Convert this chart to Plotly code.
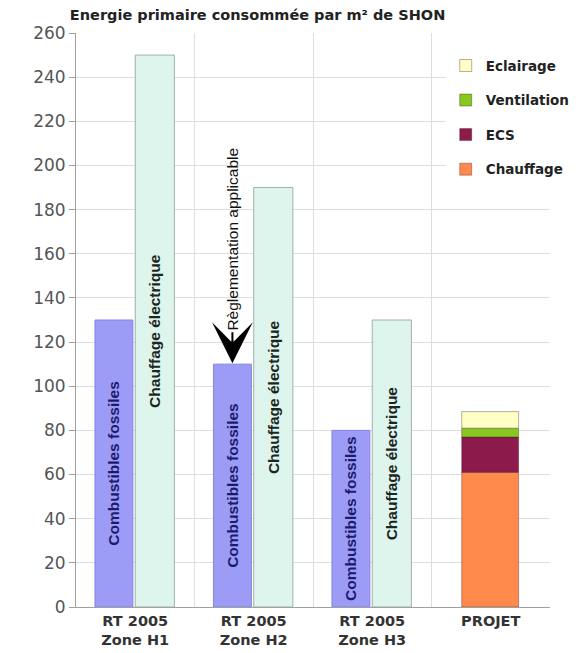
import plotly.graph_objects as go

# Reference values (kWh ep / m² SHON) for each climate zone
zones = ["RT 2005<br>Zone H1", "RT 2005<br>Zone H2", "RT 2005<br>Zone H3"]
fossiles = [130, 110, 80]
electrique = [250, 190, 130]

# Project consumption broken down by use
projet_label = "PROJET"
usages = ["Chauffage", "ECS", "Ventilation", "Eclairage"]
projet_values = [61, 16, 4, 7.5]
usage_colors = ["#ff8a4c", "#8c1b4b", "#86c81e", "#ffffc6"]

tick_labels = zones + [projet_label]
x_zones = list(range(len(zones)))
x_projet = len(zones)

FOSSIL_OFFSET, FOSSIL_WIDTH = -0.34, 0.32
ELEC_OFFSET, ELEC_WIDTH = 0.0, 0.33
PROJ_OFFSET, PROJ_WIDTH = -0.245, 0.48

bold_rot = dict(family="Liberation Sans", size=15.5, weight="bold")

fig = go.Figure()

fig.add_trace(go.Bar(
    x=x_zones, y=fossiles, width=FOSSIL_WIDTH, offset=FOSSIL_OFFSET,
    marker=dict(color="#9c9cf6", line=dict(color="#8585e2", width=1)),
    text=["Combustibles fossiles"] * len(zones), textposition="inside",
    insidetextanchor="middle", textangle=-90,
    textfont=dict(color="#1b1b6b", **bold_rot),
    showlegend=False, hoverinfo="y",
))
fig.add_trace(go.Bar(
    x=x_zones, y=electrique, width=ELEC_WIDTH, offset=ELEC_OFFSET,
    marker=dict(color="#def5ee", line=dict(color="#9fb2a7", width=1)),
    text=["Chauffage électrique"] * len(zones), textposition="inside",
    insidetextanchor="middle", textangle=-90,
    textfont=dict(color="#1c2620", **bold_rot),
    showlegend=False, hoverinfo="y",
))

# Stacked project bar, one trace per use (legend lists the top segment first)
base = 0
for i, (name, val, col) in enumerate(zip(usages, projet_values, usage_colors)):
    fig.add_trace(go.Bar(
        x=[x_projet], y=[val], base=[base], width=PROJ_WIDTH, offset=PROJ_OFFSET,
        name=name, legendgroup=name, legendrank=len(usages) - i,
        marker=dict(color=col, line=dict(color="rgba(60,20,20,0.35)", width=1)),
    ))
    base += val

# Arrow pointing at the applicable regulation (zone H2, fossil fuels)
fig.add_annotation(
    x=1 + FOSSIL_OFFSET + FOSSIL_WIDTH / 2, y=fossiles[1],
    xref="x", yref="y", text="Règlementation applicable", textangle=-90,
    font=dict(family="Liberation Sans", size=15.5, color="#111"),
    showarrow=True, arrowhead=3, arrowsize=3.4, arrowwidth=2,
    arrowcolor="#000", ax=0, ay=-125, standoff=1,
)

fig.update_layout(
    width=587, height=653,
    margin=dict(l=76, r=32, t=33, b=46),
    paper_bgcolor="white", plot_bgcolor="white",
    barmode="overlay",
    title=dict(
        text="Energie primaire consommée par m² de SHON",
        x=0.119, xanchor="left", xref="container",
        y=1 - 15 / 653, yanchor="middle", yref="container",
        font=dict(family="DejaVu Sans", size=14.5, weight="bold", color="#222"),
    ),
    legend=dict(
        x=0.78, y=0.97, xanchor="left", yanchor="top",
        traceorder="grouped", tracegroupgap=14,
        bgcolor="white",
        font=dict(family="DejaVu Sans", size=13.5, weight="bold", color="#222"),
    ),
    showlegend=True,
)

fig.update_xaxes(
    range=[-0.5, len(tick_labels) - 0.5],
    tickmode="array", tickvals=list(range(len(tick_labels))), ticktext=tick_labels,
    showgrid=False, zeroline=False,
    minor=dict(tick0=-0.5, dtick=1, showgrid=True, gridcolor="#dedede", gridwidth=1),
    showline=True, linecolor="#a0a0a0", linewidth=1,
    tickfont=dict(family="DejaVu Sans", size=14.5, weight="bold", color="#333"),
    ticklabelstandoff=1, automargin=False,
    fixedrange=True,
)
fig.update_yaxes(
    range=[0, 260], dtick=20, tick0=0,
    showgrid=True, gridcolor="#dedede", gridwidth=1, zeroline=False,
    showline=True, linecolor="#a0a0a0", linewidth=1,
    ticks="outside", ticklen=6, tickcolor="#a0a0a0",
    tickfont=dict(family="DejaVu Sans", size=17, color="#555"),
    automargin=False, fixedrange=True,
)

fig.update_layout(uniformtext=dict(mode="show", minsize=15.5))

fig.write_html("out.html")
